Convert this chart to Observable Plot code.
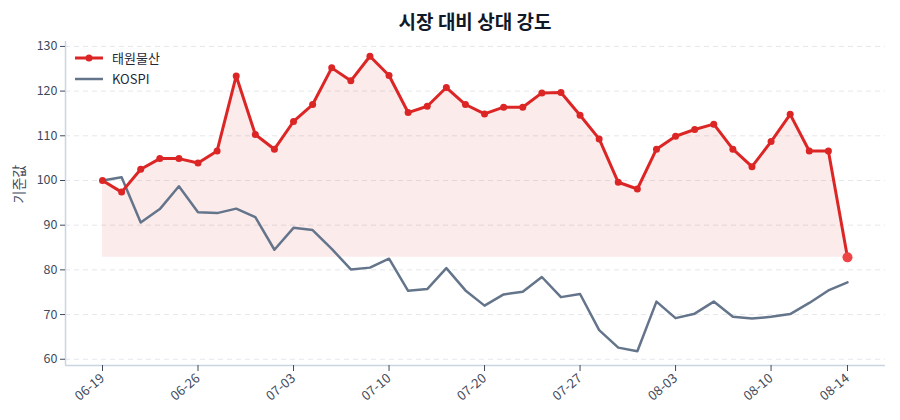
<!DOCTYPE html>
<html>
<head>
<meta charset="utf-8">
<script src="https://cdn.jsdelivr.net/npm/d3@7"></script>
<script src="https://cdn.jsdelivr.net/npm/@observablehq/plot@0.6"></script>
<style>
  html, body { margin: 0; padding: 0; background: #fff; }
  body { font-family: "Noto Sans CJK KR", "Noto Sans", sans-serif; }
  #wrap { position: relative; width: 900px; height: 420px; }
  #title { box-sizing: border-box; width: 900px; height: 34px; line-height: 42px; padding-left: 50px;
           text-align: center; font-size: 19px; font-weight: 700; color: #111827; overflow: visible; }
  #chart svg { display: block; }
  #legend { position: absolute; left: 74px; top: 47px; font-size: 13px; color: #1f2937; }
  .item { display: flex; align-items: center; height: 21px; }
  .item svg { margin-right: 8px; }
</style>
</head>
<body>
<div id="wrap">
  <div id="title">시장 대비 상대 강도</div>
  <div id="chart"></div>
  <div id="legend"></div>
</div>
<script>
const dates = ["06-19","06-22","06-23","06-24","06-25","06-26","06-29","06-30","07-01","07-02",
               "07-03","07-06","07-07","07-08","07-09","07-10","07-13","07-14","07-15","07-16",
               "07-20","07-21","07-22","07-23","07-24","07-27","07-28","07-29","07-30","07-31",
               "08-03","08-04","08-05","08-06","08-07","08-10","08-11","08-12","08-13","08-14"];
const stockName = "태원물산";
const benchName = "KOSPI";
const stock = [100.0, 97.4, 102.5, 104.9, 104.9, 103.9, 106.6, 123.4, 110.3, 107.0,
               113.2, 117.0, 125.2, 122.3, 127.8, 123.5, 115.2, 116.6, 120.8, 117.0,
               114.9, 116.4, 116.4, 119.6, 119.7, 114.6, 109.3, 99.6, 98.1, 107.0,
               109.9, 111.4, 112.6, 107.0, 103.1, 108.7, 114.8, 106.6, 106.6, 82.8];
const kospi = [100.0, 100.7, 90.6, 93.6, 98.7, 92.9, 92.7, 93.7, 91.8, 84.5,
               89.4, 88.9, 84.7, 80.1, 80.5, 82.5, 75.3, 75.7, 80.4, 75.4,
               72.0, 74.5, 75.1, 78.4, 73.9, 74.6, 66.5, 62.6, 61.8, 72.9,
               69.2, 70.2, 72.9, 69.5, 69.1, 69.5, 70.1, 72.6, 75.4, 77.2];
const tickDates = ["06-19","06-26","07-03","07-10","07-20","07-27","08-03","08-10","08-14"];
const yTicks = [60, 70, 80, 90, 100, 110, 120, 130];

const data = dates.map((d, i) => ({i, date: d, stock: stock[i], kospi: kospi[i]}));
const base = d3.min(stock);
const tickIdx = tickDates.map(d => dates.indexOf(d));
const last = data[data.length - 1];

const red = "#dc2626", gray = "#64748b", axisCol = "#cbd5e1", textCol = "#3f4b5c";

const chart = Plot.plot({
  width: 900,
  height: 386,
  marginLeft: 65,
  marginRight: 15,
  marginTop: 7,
  marginBottom: 55,
  style: {fontFamily: '"Noto Sans CJK KR", "Noto Sans", sans-serif', fontSize: "12px", color: textCol, background: "#fff", overflow: "visible"},
  x: {type: "linear", domain: [-1.937, 40.99]},
  y: {domain: [58.6, 131.1]},
  marks: [
    Plot.gridY(yTicks, {stroke: "#e5e7eb", strokeOpacity: 1, strokeDasharray: "5,4"}),
    Plot.areaY(data, {x: "i", y1: () => base, y2: "stock", fill: red, fillOpacity: 0.09, curve: "linear"}),
    Plot.ruleY([58.6], {stroke: axisCol, strokeWidth: 1.5}),
    Plot.ruleX([-1.937], {stroke: axisCol, strokeWidth: 1.5}),
    Plot.line(data, {x: "i", y: "kospi", stroke: gray, strokeWidth: 2.5}),
    Plot.line(data, {x: "i", y: "stock", stroke: red, strokeWidth: 3}),
    Plot.dot(data.slice(0, -1), {x: "i", y: "stock", r: 3.5, fill: red}),
    Plot.dot([last], {x: "i", y: "stock", r: 5, fill: "#ef4444"}),
    Plot.axisY({ticks: yTicks, tickSize: 5, tickPadding: 3, stroke: textCol, fill: textCol, fontSize: 12.5, label: null}),
    Plot.axisX({ticks: tickIdx, tickFormat: i => dates[i], tickSize: 6, tickPadding: 5, tickRotate: -40,
                stroke: textCol, fill: textCol, fontSize: 13, label: null}),
    Plot.text(["기준값"], {frameAnchor: "left", dx: -46, rotate: -90, fontSize: 14, fill: textCol})
  ]
});
document.getElementById("chart").appendChild(chart);

const legend = document.getElementById("legend");
legend.innerHTML = `
  <div class="item"><svg width="30" height="10"><line x1="1" y1="5" x2="29" y2="5" stroke="${red}" stroke-width="3"/><circle cx="15" cy="5" r="3.5" fill="${red}"/></svg>${stockName}</div>
  <div class="item"><svg width="30" height="10"><line x1="1" y1="5" x2="29" y2="5" stroke="${gray}" stroke-width="2.5"/></svg>${benchName}</div>`;
</script>
</body>
</html>
